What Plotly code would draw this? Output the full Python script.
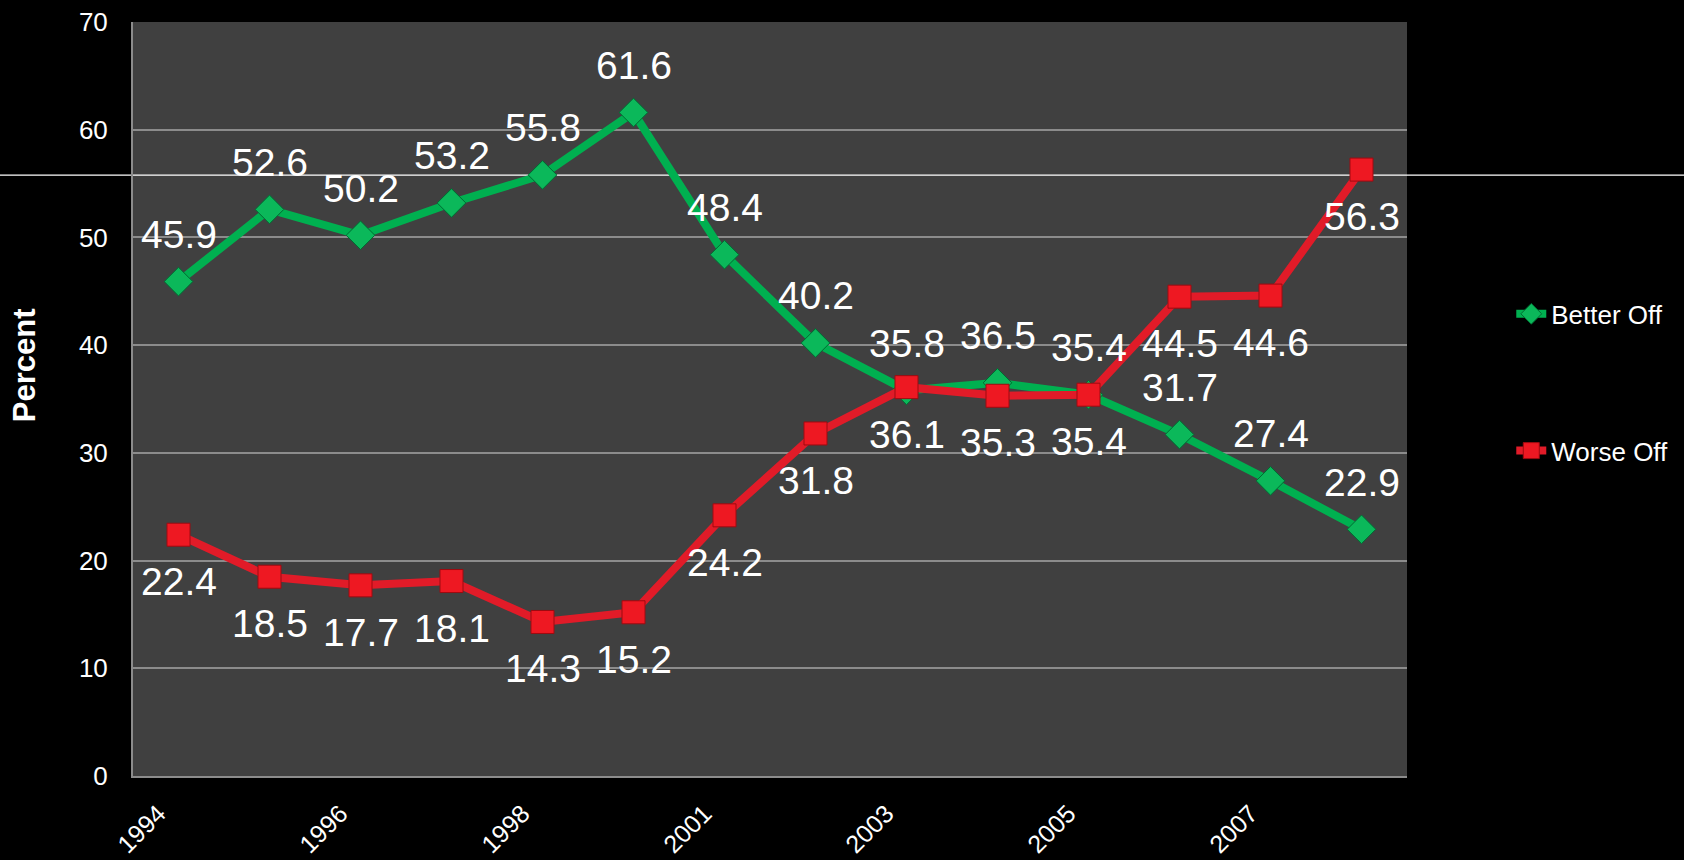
import plotly.graph_objects as go

years = ["1994", "1995", "1996", "1997", "1998", "2000", "2001",
         "2002", "2003", "2004", "2005", "2006", "2007", "2008"]
better_off = [45.9, 52.6, 50.2, 53.2, 55.8, 61.6, 48.4,
              40.2, 35.8, 36.5, 35.4, 31.7, 27.4, 22.9]
worse_off = [22.4, 18.5, 17.7, 18.1, 14.3, 15.2, 24.2,
             31.8, 36.1, 35.3, 35.4, 44.5, 44.6, 56.3]
shown_ticks = years[::2]

FONT = "Arial, 'Liberation Sans', sans-serif"
GREEN = "#00B050"
RED = "#E11B28"
LABEL_SIZE = 39

fig = go.Figure()
fig.add_trace(go.Scatter(
    x=years, y=better_off, name="Better Off", mode="lines+markers",
    line=dict(color=GREEN, width=8),
    marker=dict(symbol="diamond", size=22, color="#0BB85A",
                line=dict(color="#006B32", width=1)),
    legendgroup="b", cliponaxis=False,
))
fig.add_trace(go.Scatter(
    x=years, y=worse_off, name="Worse Off", mode="lines+markers",
    line=dict(color=RED, width=8),
    marker=dict(symbol="square", size=23, color="#EE1822",
                line=dict(color="#9E0A10", width=1)),
    legendgroup="w", cliponaxis=False,
))

# data labels: category axis positions given by serial index of each year
annotations = []
for i, v in enumerate(better_off):
    annotations.append(dict(x=i, y=v, xref="x", yref="y", text=f"{v:.1f}",
                            showarrow=False, yshift=47,
                            font=dict(size=LABEL_SIZE, color="white", family=FONT)))
for i, v in enumerate(worse_off):
    annotations.append(dict(x=i, y=v, xref="x", yref="y", text=f"{v:.1f}",
                            showarrow=False, yshift=-47,
                            font=dict(size=LABEL_SIZE, color="white", family=FONT)))
# y-axis title
annotations.append(dict(text="<b>Percent</b>", textangle=-90, showarrow=False,
                        xref="paper", yref="paper", x=-0.0855, y=0.545,
                        xanchor="center", yanchor="middle",
                        font=dict(size=31, color="white", family=FONT)))

fig.update_layout(
    width=1684, height=860,
    paper_bgcolor="black", plot_bgcolor="#404040",
    margin=dict(l=133, r=276, t=22, b=84),
    font=dict(family=FONT, color="white", size=26),
    showlegend=True,
    legend=dict(x=1.081, y=0.522, xanchor="left", yanchor="middle",
                font=dict(size=26, color="white", family=FONT),
                tracegroupgap=100, traceorder="grouped",
                bgcolor="rgba(0,0,0,0)"),
    xaxis=dict(type="category", range=[-0.5, len(years) - 0.5],
               tickmode="array", tickvals=shown_ticks,
               ticktext=shown_ticks, tickangle=-45,
               tickfont=dict(size=25, color="white"),
               showgrid=False, showline=True, linecolor="#8c8c8c", linewidth=2,
               ticks="", ticklabelstandoff=11, ticklabelshift=-20,
               zeroline=False, automargin=False),
    yaxis=dict(range=[0, 70], dtick=10, showgrid=True, gridcolor="#8c8c8c",
               gridwidth=1.5, showline=True, linecolor="#8c8c8c", linewidth=2,
               zeroline=False, ticks="", ticklabelstandoff=18,
               tickfont=dict(size=26, color="white"), automargin=False),
    annotations=annotations,
    shapes=[dict(type="line", xref="paper", yref="paper",
                 x0=-0.11, x1=1.22, y0=0.797, y1=0.797,
                 line=dict(color="white", width=1.2), layer="below")],
)

fig.write_html("out.html", config={"displayModeBar": False})

with open("out.html", "r", encoding="utf-8") as f:
    html = f.read()
html = html.replace("<head>", "<head><style>html,body{margin:0;padding:0;overflow:hidden;background:black;}</style>", 1)
with open("out.html", "w", encoding="utf-8") as f:
    f.write(html)
